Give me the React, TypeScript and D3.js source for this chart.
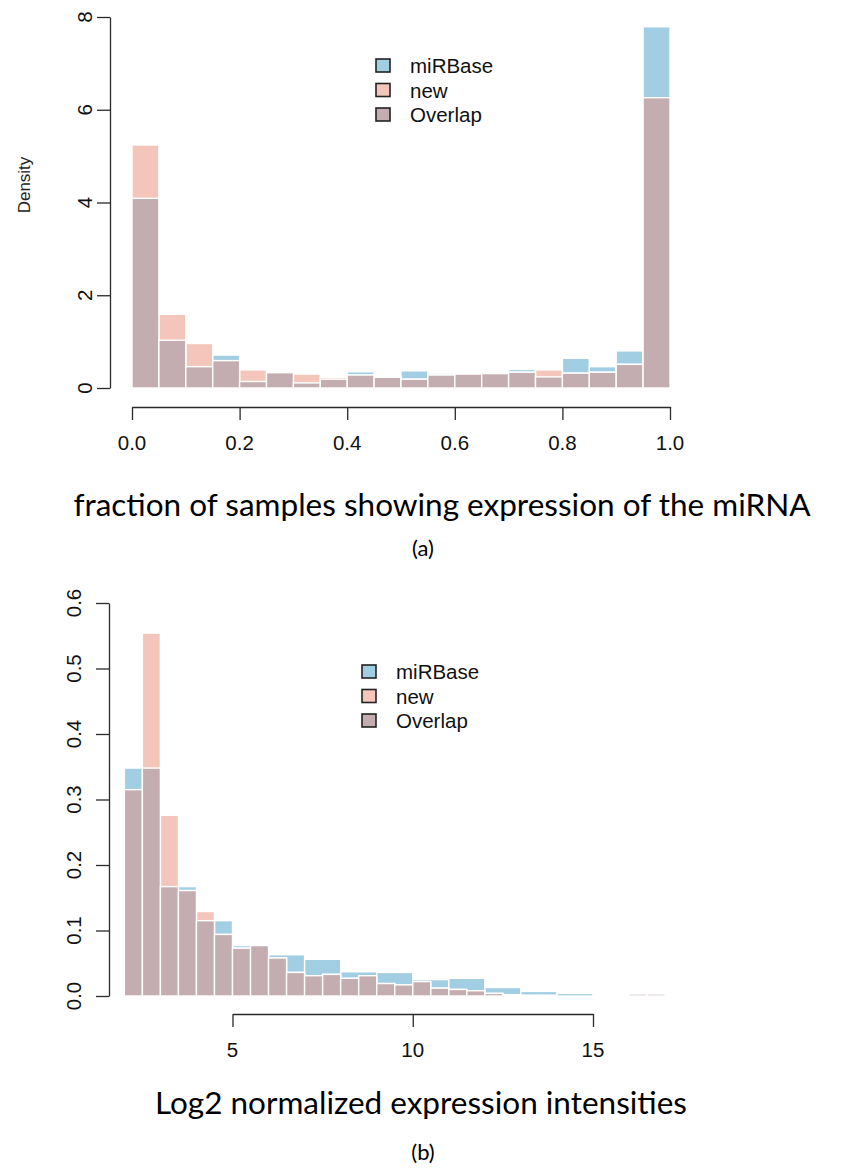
import { useEffect, useRef } from 'react';
import * as d3 from 'd3';

// panel (a): fraction of samples, bins of 0.05
const topBreaks = [0, 0.05, 0.1, 0.15, 0.2, 0.25, 0.3, 0.35, 0.4, 0.45, 0.5, 0.55, 0.6, 0.65, 0.7, 0.75, 0.8, 0.85, 0.9, 0.95, 1.0];
const topMirbase = [4.09, 1.03, 0.46, 0.71, 0.14, 0.33, 0.11, 0.19, 0.35, 0.23, 0.37, 0.32, 0.30, 0.31, 0.40, 0.24, 0.64, 0.46, 0.80, 7.79];
const topNew = [5.24, 1.59, 0.96, 0.59, 0.39, 0.33, 0.30, 0.23, 0.28, 0.25, 0.19, 0.28, 0.30, 0.31, 0.34, 0.39, 0.32, 0.34, 0.51, 6.26];
const topYTicks = [0, 2, 4, 6, 8];
const topXTicks = [0, 0.2, 0.4, 0.6, 0.8, 1.0];

// panel (b): log2 intensities, miRBase in bins of 1, new in bins of 0.5
const botMirBreaks = [2, 3, 4, 5, 6, 7, 8, 9, 10, 11, 12, 13, 14, 15, 16, 17];
const botMirbase = [0.348, 0.167, 0.115, 0.077, 0.063, 0.056, 0.037, 0.036, 0.025, 0.027, 0.013, 0.007, 0.004, 0, 0.003];
const botNewBreaks = [2, 2.5, 3, 3.5, 4, 4.5, 5, 5.5, 6, 6.5, 7, 7.5, 8, 8.5, 9, 9.5, 10, 10.5, 11, 11.5, 12, 12.5, 13, 13.5, 14, 14.5, 15, 15.5, 16, 16.5, 17];
const botNew = [0.315, 0.554, 0.276, 0.161, 0.129, 0.094, 0.073, 0.077, 0.058, 0.036, 0.031, 0.033, 0.027, 0.031, 0.019, 0.017, 0.022, 0.012, 0.010, 0.008, 0.004, 0.002, 0.001, 0.001, 0, 0, 0, 0, 0.003, 0.003];
const botYTicks = [0, 0.1, 0.2, 0.3, 0.4, 0.5, 0.6];
const botXTicks = [5, 10, 15];

const legendLabels = ['miRBase', 'new', 'Overlap'];

const BLUE = '#a2cee3';
const PINK = '#f4c6bb';
const OVER = '#c4adb0';
const AXIS = '#2a2a2a';
const FONT = '"Liberation Sans", Arial, sans-serif';

type Bin = { x0: number; x1: number; v: number };

const Histograms = () => {
  const svgRef = useRef<SVGSVGElement>(null);

  useEffect(() => {
    const svg = d3.select(svgRef.current);
    svg.selectAll('*').remove();

    const drawPanel = (opts: {
      x: d3.ScaleLinear<number, number>;
      y: d3.ScaleLinear<number, number>;
      mir: Bin[];
      nw: Bin[];
      over: Bin[];
      xTicks: number[];
      yTicks: number[];
      xFmt: (d: number) => string;
      yFmt: (d: number) => string;
      yAxisX: number;
      xAxisY: number;
      yLabelX: number;
      legendX: number;
      legendY: number;
    }) => {
      const { x, y } = opts;
      const g = svg.append('g');
      const layer = (bins: Bin[], fill: string) =>
        g.append('g')
          .selectAll('rect')
          .data(bins.filter(b => b.v > 0))
          .enter()
          .append('rect')
          .attr('x', d => x(d.x0))
          .attr('width', d => x(d.x1) - x(d.x0))
          .attr('y', d => y(d.v))
          .attr('height', d => y(0) - y(d.v))
          .attr('fill', fill)
          .attr('stroke', 'white')
          .attr('stroke-width', 1.4);
      layer(opts.mir, BLUE);
      layer(opts.nw, PINK);
      layer(opts.over, OVER);

      // y axis
      const ya = g.append('g')
        .attr('transform', `translate(${opts.yAxisX},0)`)
        .call(d3.axisLeft(y).tickValues(opts.yTicks).tickSize(13).tickSizeOuter(0).tickFormat(() => ''));
      ya.selectAll('path, line').attr('stroke', AXIS).attr('stroke-width', 1.3);
      g.append('g')
        .selectAll('text')
        .data(opts.yTicks)
        .enter()
        .append('text')
        .attr('transform', d => `translate(${opts.yLabelX},${y(d)}) rotate(-90)`)
        .attr('text-anchor', 'middle')
        .attr('dy', '0.35em')
        .attr('font-family', FONT)
        .attr('font-size', 20.5)
        .attr('fill', '#111')
        .text(d => opts.yFmt(d));

      // x axis
      const xa = g.append('g')
        .attr('transform', `translate(0,${opts.xAxisY})`)
        .call(d3.axisBottom(x).tickValues(opts.xTicks).tickSize(13).tickSizeOuter(0).tickFormat(() => ''));
      xa.selectAll('path, line').attr('stroke', AXIS).attr('stroke-width', 1.3);
      g.append('g')
        .selectAll('text')
        .data(opts.xTicks)
        .enter()
        .append('text')
        .attr('x', d => x(d))
        .attr('y', opts.xAxisY + 36)
        .attr('dy', '0.35em')
        .attr('text-anchor', 'middle')
        .attr('font-family', FONT)
        .attr('font-size', 20.5)
        .attr('fill', '#111')
        .text(d => opts.xFmt(d));

      // legend
      const leg = g.append('g')
        .selectAll('g')
        .data(legendLabels)
        .enter()
        .append('g')
        .attr('transform', (d, i) => `translate(${opts.legendX},${opts.legendY + i * 24.5})`);
      leg.append('rect')
        .attr('x', 0)
        .attr('y', -7)
        .attr('width', 14)
        .attr('height', 13)
        .attr('fill', (d, i) => [BLUE, PINK, OVER][i])
        .attr('stroke', '#222')
        .attr('stroke-width', 1.6);
      leg.append('text')
        .attr('x', 34)
        .attr('dy', '0.36em')
        .attr('font-family', FONT)
        .attr('font-size', 20.5)
        .attr('fill', '#111')
        .text(d => d);
    };

    // panel (a)
    const xTop = d3.scaleLinear().domain([0, 1]).range([132, 670]);
    const yTop = d3.scaleLinear().domain([0, 8]).range([388, 17]);
    const tMir = topMirbase.map((v, i) => ({ x0: topBreaks[i], x1: topBreaks[i + 1], v }));
    const tNew = topNew.map((v, i) => ({ x0: topBreaks[i], x1: topBreaks[i + 1], v }));
    const tOver = tMir.map((b, i) => ({ ...b, v: Math.min(b.v, tNew[i].v) }));
    drawPanel({
      x: xTop, y: yTop, mir: tMir, nw: tNew, over: tOver,
      xTicks: topXTicks, yTicks: topYTicks,
      xFmt: d3.format('.1f'), yFmt: d3.format('d'),
      yAxisX: 110, xAxisY: 407, yLabelX: 85,
      legendX: 376, legendY: 66,
    });

    svg.append('text')
      .attr('transform', 'translate(24,185) rotate(-90)')
      .attr('text-anchor', 'middle')
      .attr('dy', '0.35em')
      .attr('font-family', FONT)
      .attr('font-size', 17)
      .attr('fill', '#222')
      .text('Density');

    // panel (b)
    const xBot = d3.scaleLinear().domain([5, 15]).range([232.5, 593]);
    const yBot = d3.scaleLinear().domain([0, 0.6]).range([996, 603]);
    const bMir = botMirbase.map((v, i) => ({ x0: botMirBreaks[i], x1: botMirBreaks[i + 1], v }));
    const bNew = botNew.map((v, i) => ({ x0: botNewBreaks[i], x1: botNewBreaks[i + 1], v }));
    const bOver = bNew.map(b => {
      const j = d3.bisectRight(botMirBreaks, b.x0) - 1;
      const m = j >= 0 && j < botMirbase.length ? botMirbase[j] : 0;
      return { ...b, v: Math.min(b.v, m) };
    });
    drawPanel({
      x: xBot, y: yBot, mir: bMir, nw: bNew, over: bOver,
      xTicks: botXTicks, yTicks: botYTicks,
      xFmt: d3.format('d'), yFmt: d3.format('.1f'),
      yAxisX: 109, xAxisY: 1014, yLabelX: 74,
      legendX: 362, legendY: 672,
    });

    // captions
    const captions = [
      { text: 'fraction of samples showing expression of the miRNA', x: 442, y: 505, size: 31.5 },
      { text: '(a)', x: 423, y: 548, size: 22 },
      { text: 'Log2 normalized expression intensities', x: 421, y: 1103, size: 31.5 },
      { text: '(b)', x: 423, y: 1152, size: 22 },
    ];
    svg.append('g')
      .selectAll('text')
      .data(captions)
      .enter()
      .append('text')
      .attr('x', d => d.x)
      .attr('y', d => d.y)
      .attr('dy', '0.35em')
      .attr('text-anchor', 'middle')
      .attr('font-family', 'Lato, "Open Sans", sans-serif')
      .attr('font-size', d => d.size)
      .attr('fill', '#000')
      .text(d => d.text);
  }, []);

  return (
    <svg
      ref={svgRef}
      width={845}
      height={1176}
      style={{ position: 'absolute', left: 0, top: 0, background: 'white' }}
    />
  );
};

export default function App() {
  return <Histograms />;
}
